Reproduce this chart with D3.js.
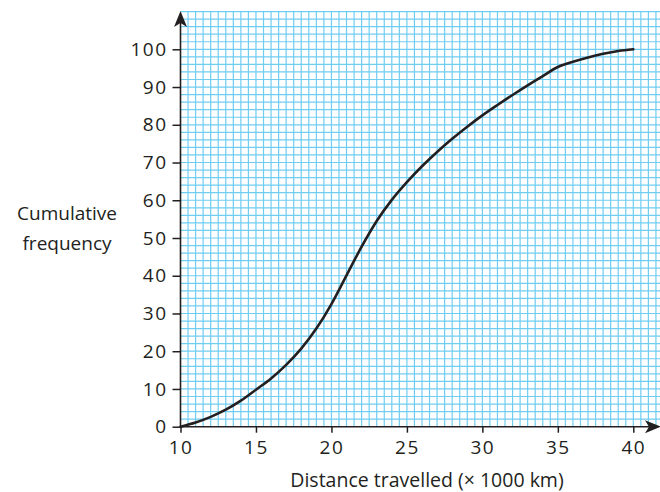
<!DOCTYPE html>
<html><head><meta charset="utf-8">
<script src="https://cdn.jsdelivr.net/npm/d3@7"></script>
<style>
html,body{margin:0;padding:0;background:#fff;}
text{font-family:"Open Sans",sans-serif;fill:#231f20;}
</style></head>
<body><svg id="c" width="660" height="492"></svg>
<script>
const distance = [10,11,12,13,14,15,16,17,18,19,20,21,22,23,24,25,26,27,28,29,30,31,32,33,34,35,36,37,38,39,40];
const cumFreq  = [0,1.1,2.6,4.5,6.9,9.8,12.8,16.4,20.7,26,32.5,40.1,47.7,54.5,60.1,64.8,69,72.8,76.3,79.5,82.5,85.25,87.9,90.45,92.9,95.3,96.7,97.85,98.8,99.55,100];
const xTicks = [10,15,20,25,30,35,40];
const yTicks = [0,10,20,30,40,50,60,70,80,90,100];
const xTitle = "Distance travelled (\u00d7 1000 km)";
const yTitle = ["Cumulative","frequency"];

const svg = d3.select("#c");
const x = d3.scaleLinear().domain([10,40]).range([180.5,633.3]);
const y = d3.scaleLinear().domain([0,100]).range([426.7,49.3]);

// grid
const g = svg.append("g");
const xg = d3.range(10.5, 42.01, 0.5);
const yg = d3.range(2, 110.01, 2);
g.selectAll("line.v").data(xg).join("line")
  .attr("x1",d=>x(d)).attr("x2",d=>x(d)).attr("y1",y(110)).attr("y2",y(0))
  .attr("stroke","#6fcdf2").attr("stroke-width",1.2);
g.selectAll("line.h").data(yg).join("line")
  .attr("y1",d=>y(d)).attr("y2",d=>y(d)).attr("x1",x(10)).attr("x2",660)
  .attr("stroke","#6fcdf2").attr("stroke-width",1.2);

// curve
svg.append("path").datum(distance.map((d,i)=>[d,cumFreq[i]]))
  .attr("d", d3.line().x(d=>x(d[0])).y(d=>y(d[1])).curve(d3.curveMonotoneX))
  .attr("fill","none").attr("stroke","#231f20").attr("stroke-width",2.6)
  .attr("stroke-linecap","round");

// axes
const ax = svg.append("g").attr("transform",`translate(0,${y(0)})`)
  .call(d3.axisBottom(x).tickValues(xTicks).tickSize(6).tickPadding(5).tickSizeOuter(0));
const ay = svg.append("g").attr("transform",`translate(${x(10)},0)`)
  .call(d3.axisLeft(y).tickValues(yTicks).tickSize(8).tickPadding(5).tickSizeOuter(0));
[ax,ay].forEach(a=>{
  a.select(".domain").remove();
  a.selectAll(".tick line").attr("stroke","#231f20").attr("stroke-width",1.5);
  a.selectAll(".tick text").attr("font-size",19).attr("fill","#231f20")
   .style("font-family","'Open Sans', sans-serif").style("letter-spacing","1.5px");
});
ax.selectAll(".tick text").attr("dy","0.85em");
// axis lines
svg.append("line").attr("x1",x(10)).attr("x2",655).attr("y1",y(0)).attr("y2",y(0))
  .attr("stroke","#231f20").attr("stroke-width",1.6);
svg.append("line").attr("x1",x(10)).attr("x2",x(10)).attr("y1",y(0)).attr("y2",16)
  .attr("stroke","#231f20").attr("stroke-width",1.6);
// arrowheads
const tx = x(10);
svg.append("path").attr("d",`M${tx},11 L${tx+6.5},27 L${tx},23 L${tx-6.5},27 Z`).attr("fill","#231f20");
const ty = y(0);
svg.append("path").attr("d",`M661,${ty} L645,${ty-6.5} L649,${ty} L645,${ty+6.5} Z`).attr("fill","#231f20");

// titles
svg.append("text").attr("x",427).attr("y",487).attr("text-anchor","middle")
  .attr("font-size",19.5).text(xTitle);
svg.append("text").attr("x",67).attr("y",220).attr("text-anchor","middle")
  .attr("font-size",19).text(yTitle[0]);
svg.append("text").attr("x",67).attr("y",250).attr("text-anchor","middle")
  .attr("font-size",19).text(yTitle[1]);
</script></body></html>
